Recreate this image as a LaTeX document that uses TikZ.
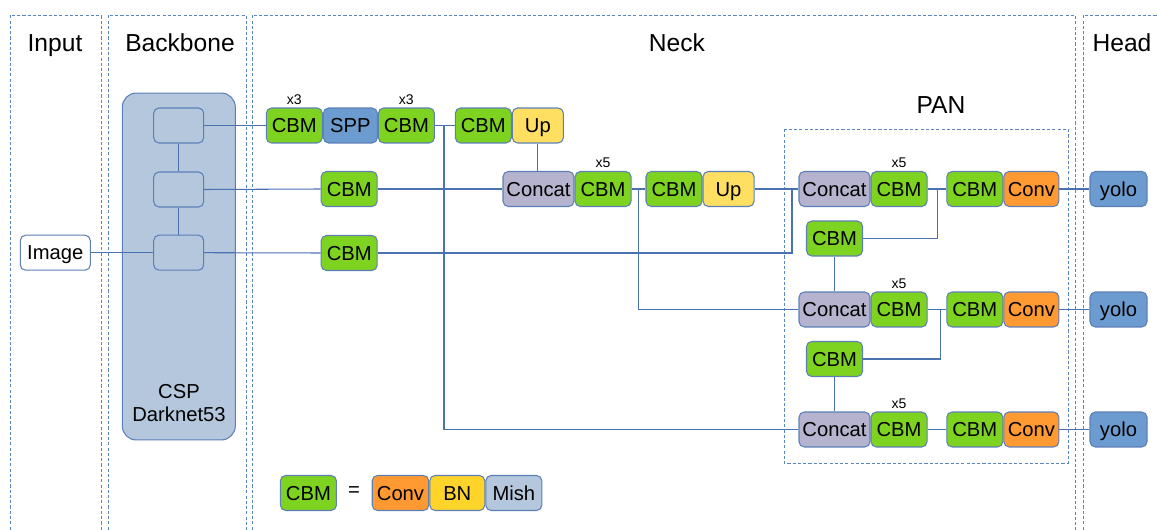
\documentclass[tikz,border=0pt]{standalone}
\usepackage{fontspec}
\setmainfont{Liberation Sans}
\usetikzlibrary{positioning}

\definecolor{cbmgreen}{HTML}{7ED321}
\definecolor{sppblue}{HTML}{6C9BCF}
\definecolor{upyellow}{HTML}{FFDF61}
\definecolor{bnyellow}{HTML}{FFD42A}
\definecolor{concatgray}{HTML}{B5B3CD}
\definecolor{convorange}{HTML}{FF9A33}
\definecolor{mishblue}{HTML}{B4C7DD}
\definecolor{edgeblue}{HTML}{5B7FB6}
\definecolor{wireblue}{HTML}{4A72B0}
\definecolor{dashblue}{HTML}{5A85C0}

\tikzset{
  blk/.style = {draw = edgeblue, line width = 0.6pt, rounded corners = 3pt, minimum height = 0.7cm,
                inner sep = 0pt, text height = 8.2pt, text depth = 0pt, font = \fontsize{11.5}{13}\selectfont},
  cbm/.style = {blk, fill = cbmgreen, minimum width = 1.12cm},
  spp/.style = {blk, fill = sppblue, minimum width = 1.08cm},
  upbox/.style = {blk, fill = upyellow, minimum width = 1.02cm},
  concat/.style = {blk, fill = concatgray, minimum width = 1.42cm},
  conv/.style = {blk, fill = convorange, minimum width = 1.1cm},
  yolo/.style = {blk, fill = sppblue, minimum width = 1.14cm},
  bbstage/.style = {blk, fill = mishblue, minimum width = 1.0cm},
  tag/.style = {inner sep = 1.5pt, font = \fontsize{8}{9}\selectfont},
  title/.style = {inner sep = 0pt, text height = 10pt, text depth = 0pt, font = \fontsize{14}{16}\selectfont},
  wire/.style = {draw = wireblue, line width = 0.6pt},
  section/.style = {draw = dashblue, line width = 0.55pt, dash pattern = on 1.8pt off 1.2pt}
}

\begin{document}
\begin{tikzpicture}[x = 0.02cm, y = -0.02cm]
  \useasboundingbox (0, 0) rectangle (1157, 530);

  % sections
  \draw [section] (10, 535) -- (10, 15) -- (101, 15) -- (101, 535);
  \draw [section] (108, 535) -- (108, 15) -- (246, 15) -- (246, 535);
  \draw [section] (252, 535) -- (252, 15) -- (1075, 15) -- (1075, 535);
  \draw [section] (1083, 535) -- (1083, 15) -- (1160, 15);
  \node [title] (tInput) at (55, 43) {Input};
  \node [title] (tBackbone) at (180, 43) {Backbone};
  \node [title] (tNeck) at (677, 43) {Neck};
  \node [title] (tHead) at (1122, 43) {Head};

  % PAN frame
  \draw [section] (784, 129) rectangle (1068, 463);
  \node [title] (tPan) at (941, 105) {PAN};

  % input and backbone
  \node [blk, fill = white, minimum width = 1.4cm] (img) at (55.3, 252.7) {Image};
  \node [draw = edgeblue, line width = 0.6pt, fill = mishblue, rounded corners = 8pt,
         minimum width = 2.26cm, minimum height = 6.94cm] (bb) at (178.8, 266.5) {};
  \node [bbstage] (bb1) at (178.7, 125.5) {};
  \node [bbstage] (bb2) at (178.7, 189.5) {};
  \node [bbstage] (bb3) at (178.7, 252.7) {};
  \node [align = center, font = \fontsize{11.5}{13}\selectfont] (csp) at (179, 403) {CSP\\Darknet53};

  % neck, top row
  \node [cbm] (cbmA) at (294.3, 125.5) {CBM};
  \node [spp, right = 0pt of cbmA] (spp) {SPP};
  \node [cbm, right = 0pt of spp] (cbmB) {CBM};
  \node [tag, above = 0pt of cbmA] (nA) {x3};
  \node [tag, above = 0pt of cbmB] (nB) {x3};
  \node [cbm] (cbmC) at (483.3, 125.5) {CBM};
  \node [upbox, right = 0pt of cbmC] (up1) {Up};

  % neck, second row
  \node [cbm] (cbmD) at (349.2, 189) {CBM};
  \node [concat] (cat1) at (538.5, 189) {Concat};
  \node [cbm, right = 0pt of cat1] (cbmE) {CBM};
  \node [tag, above = 0pt of cbmE] (nE) {x5};
  \node [cbm] (cbmF) at (674, 189) {CBM};
  \node [upbox, right = 0pt of cbmF] (up2) {Up};

  % neck, third row
  \node [cbm] (cbmG) at (349.2, 253) {CBM};

  % PAN
  \foreach \i/\y in {1/189, 2/309.5, 3/429.5} {
    \node [concat] (catP\i) at (834.5, \y) {Concat};
    \node [cbm, right = 0pt of catP\i] (cbmP\i) {CBM};
    \node [tag, above = 0pt of cbmP\i] (nP\i) {x5};
    \node [cbm] (cbmQ\i) at (974.8, \y) {CBM};
    \node [conv, right = 0pt of cbmQ\i] (conv\i) {Conv};
    \node [yolo] (yolo\i) at (1118.5, \y) {yolo};
  }
  \node [cbm] (cbmS1) at (834.5, 238.5) {CBM};
  \node [cbm] (cbmS2) at (834.5, 359) {CBM};

  % legend
  \node [cbm] (lCbm) at (308.4, 493) {CBM};
  \node [font = \fontsize{11.5}{13}\selectfont] (lEq) at (354, 492) {=};
  \node [conv, minimum width = 1.13cm] (lConv) at (400.5, 493) {Conv};
  \node [blk, fill = bnyellow, minimum width = 1.1cm, right = 0pt of lConv] (lBn) {BN};
  \node [blk, fill = mishblue, minimum width = 1.12cm, right = 0pt of lBn] (lMish) {Mish};

  % junctions
  \coordinate (j1) at (444, 125.5);
  \coordinate (j2) at (638.7, 189);
  \coordinate (j3) at (792, 189);
  \coordinate (j4) at (937.3, 189);
  \coordinate (j5) at (940.3, 309.5);

  % wires
  \draw [wire] (bb1) -- (bb2) -- (bb3);
  \draw [wire] (img.east) -- (bb3.west);
  \draw [wire] (bb1.east) -- (cbmA.west);
  \draw [wire] (bb2.east) -- (cbmD.west);
  \draw [wire] (bb3.east) -- (cbmG.west);
  \draw [wire] (cbmB.east) -- (cbmC.west);
  \draw [wire] (j1) |- (catP3.west);
  \draw [wire] (up1.south) -- (up1.south |- cat1.north);
  \draw [wire] (cbmD.east) -- (cat1.west);
  \draw [wire] (cbmE.east) -- (cbmF.west);
  \draw [wire] (j2) |- (catP2.west);
  \draw [wire] (up2.east) -- (catP1.west);
  \draw [wire] (cbmG.east) -| (j3);
  \draw [wire] (cbmP1.east) -- (cbmQ1.west);
  \draw [wire] (j4) |- (cbmS1.east);
  \draw [wire] (cbmS1.south) -- (catP2.north);
  \draw [wire] (cbmP2.east) -- (cbmQ2.west);
  \draw [wire] (j5) |- (cbmS2.east);
  \draw [wire] (cbmS2.south) -- (catP3.north);
  \draw [wire] (cbmP3.east) -- (cbmQ3.west);
  \foreach \i in {1, 2, 3}
    \draw [wire] (conv\i.east) -- (yolo\i.west);
\end{tikzpicture}
\end{document}
